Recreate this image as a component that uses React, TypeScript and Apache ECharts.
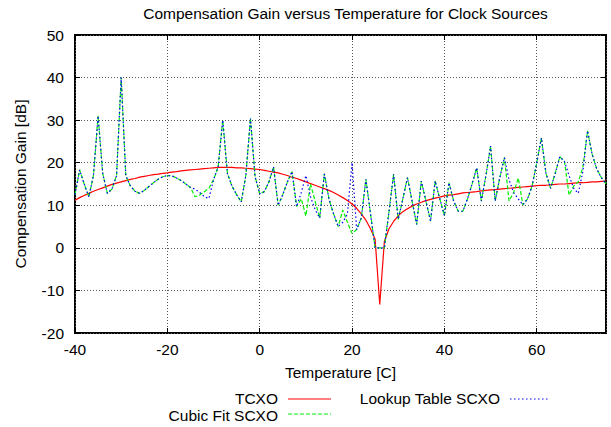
import React, { useEffect, useRef } from "react";
import * as echarts from "echarts";

const titleText = "Compensation Gain versus Temperature for Clock Sources";
const xAxisName = "Temperature [C]";
const yAxisName = "Compensation Gain [dB]";

const temps = [
  -40, -39, -38, -37, -36, -35, -34, -33, -32, -31, -30, -29, -28, -27, -26, -25, -24, -23, -22, -21,
  -20, -19, -18, -17, -16, -15, -14, -13, -12, -11, -10, -9, -8, -7, -6, -5, -4, -3, -2, -1,
  0, 1, 2, 3, 4, 5, 6, 7, 8, 9, 10, 11, 12, 13, 14, 15, 16, 17, 18, 19,
  20, 21, 22, 23, 24, 25, 26, 27, 28, 29, 30, 31, 32, 33, 34, 35, 36, 37, 38, 39,
  40, 41, 42, 43, 44, 45, 46, 47, 48, 49, 50, 51, 52, 53, 54, 55, 56, 57, 58, 59,
  60, 61, 62, 63, 64, 65, 66, 67, 68, 69, 70, 71, 72, 73, 74, 75,
];

const tcxo = [
  11.2, 11.8, 12.3, 12.8, 13.3, 13.7, 14.1, 14.5, 14.9, 15.2, 15.5, 15.8, 16.1, 16.3, 16.6, 16.8, 17.0, 17.2, 17.3, 17.5,
  17.6, 17.8, 17.9, 18.1, 18.2, 18.3, 18.4, 18.5, 18.6, 18.7, 18.8, 18.9, 18.9, 18.9, 18.9, 18.8, 18.8, 18.7, 18.6, 18.5,
  18.4, 18.2, 18.0, 17.8, 17.6, 17.3, 17.0, 16.6, 16.3, 15.9, 15.5, 15.1, 14.7, 14.3, 13.9, 13.5, 13.0, 12.4, 11.8, 11.1,
  10.3, 9.3, 8.0, 6.5, 4.5, 2.0, -13.3, 1.5, 4.5, 6.2, 7.5, 8.5, 9.2, 9.8, 10.3, 10.7, 11.1, 11.4, 11.7, 11.9,
  12.2, 12.4, 12.5, 12.7, 12.9, 13.0, 13.1, 13.2, 13.4, 13.5, 13.6, 13.7, 13.8, 13.9, 14.0, 14.1, 14.2, 14.3, 14.4, 14.5,
  14.6, 14.7, 14.7, 14.8, 14.9, 15.0, 15.0, 15.1, 15.2, 15.3, 15.3, 15.4, 15.5, 15.5, 15.6, 15.7,
];

const cubicFit = [
  12.5, 18.3, 15.0, 12.0, 17.0, 31.0, 17.5, 12.8, 13.8, 17.0, 40.0, 17.0, 14.5, 13.3, 12.8, 13.5, 14.4, 15.3, 16.1, 16.7,
  17.0, 16.9, 16.4, 15.8, 15.0, 14.2, 12.0, 12.4, 13.2, 14.0, 16.0, 19.0, 30.0, 17.5, 14.5, 12.5, 10.8, 17.0, 30.4, 16.7,
  12.7, 13.2, 15.5, 19.0, 10.0, 12.5, 15.5, 17.9, 9.7, 11.5, 7.5, 15.0, 11.0, 7.0, 17.4, 11.5, 8.0, 5.0, 8.9, 6.0,
  3.4, 4.3, 7.0, 16.1, 8.0, 0, 0, 0, 8.5, 17.3, 6.7, 11.5, 16.5, 11.0, 5.5, 15.7, 11.0, 6.3, 15.7, 11.5,
  7.6, 15.3, 11.0, 8.6, 8.6, 11.5, 15.0, 18.8, 11.0, 17.0, 23.9, 11.0, 16.5, 21.2, 11.0, 13.0, 16.4, 10.1, 11.5, 14.5,
  20.0, 25.8, 17.5, 14.0, 17.5, 21.4, 20.3, 12.4, 14.5, 15.5, 19.0, 27.5, 22.0, 18.5, 16.5, 15.0,
];

const lookupTable = [
  12.5, 18.3, 15.0, 12.0, 17.0, 31.0, 17.5, 12.8, 13.8, 17.0, 40.0, 17.0, 14.5, 13.3, 12.8, 13.5, 14.4, 15.3, 16.1, 16.7,
  17.0, 16.9, 16.4, 15.8, 15.0, 14.2, 13.8, 13.0, 12.0, 11.6, 16.0, 19.0, 30.0, 17.5, 14.5, 12.5, 10.8, 17.0, 30.4, 16.7,
  12.7, 13.2, 15.5, 19.0, 10.0, 12.5, 15.5, 17.9, 9.7, 13.0, 17.0, 12.0, 9.0, 7.0, 17.4, 11.5, 8.0, 5.0, 6.0, 8.0,
  20.0, 4.3, 7.0, 16.1, 8.0, 0, 0, 0, 8.5, 17.3, 6.7, 11.5, 16.5, 11.0, 5.5, 15.7, 11.0, 6.3, 15.7, 11.5,
  7.6, 15.3, 11.0, 8.6, 8.6, 11.5, 15.0, 18.8, 11.0, 17.0, 23.9, 11.0, 16.5, 21.2, 16.0, 13.0, 11.5, 10.1, 11.5, 14.5,
  20.0, 25.8, 17.5, 14.0, 17.5, 21.4, 20.3, 17.0, 14.0, 12.8, 18.0, 27.5, 22.0, 18.5, 16.5, 15.0,
];

const seriesNames = ["TCXO", "Cubic Fit SCXO", "Lookup Table SCXO"];

const FONT = "'Liberation Sans', Arial, Helvetica, sans-serif";
const FS = 15.5;

export default function App() {
  const ref = useRef<HTMLDivElement>(null);

  useEffect(() => {
    document.body.style.margin = "0";
    if (!ref.current) return;
    const chart = echarts.init(ref.current, undefined, { renderer: "svg" });

    const toPairs = (vals: number[]) => temps.map((t, i) => [t, vals[i]]);

    const gridLine = { show: true, lineStyle: { color: "#555", width: 1, type: [1, 2] as any } };
    const tickIn = { show: true, inside: true, length: 5, lineStyle: { color: "#000", width: 1 } };
    const noLine = { show: false, onZero: false };

    chart.setOption({
      animation: false,
      backgroundColor: "#fff",
      textStyle: { fontFamily: FONT },
      title: {
        text: titleText,
        left: 340.5,
        top: 0,
        textAlign: "center",
        textStyle: { fontFamily: FONT, fontSize: FS, fontWeight: "normal", color: "#000" },
      },
      grid: {
        left: 75,
        right: 5,
        top: 35,
        bottom: 94,
        show: true,
        borderColor: "#000",
        borderWidth: 2,
        backgroundColor: "transparent",
      },
      xAxis: [
        {
          type: "value",
          min: -40,
          max: 75,
          interval: 20,
          position: "bottom",
          name: xAxisName,
          nameLocation: "middle",
          nameGap: 31,
          nameTextStyle: { fontFamily: FONT, fontSize: FS, color: "#000" },
          axisLine: noLine,
          axisTick: tickIn,
          splitLine: gridLine,
          axisLabel: { fontFamily: FONT, fontSize: FS, color: "#000", margin: 8, showMaxLabel: false },
        },
        {
          type: "value",
          min: -40,
          max: 75,
          interval: 20,
          position: "top",
          axisLine: noLine,
          axisTick: tickIn,
          splitLine: { show: false },
          axisLabel: { show: false },
        },
      ],
      yAxis: [
        {
          type: "value",
          min: -20,
          max: 50,
          interval: 10,
          position: "left",
          name: yAxisName,
          nameLocation: "middle",
          nameRotate: 90,
          nameGap: 47,
          nameTextStyle: { fontFamily: FONT, fontSize: FS, color: "#000" },
          axisLine: noLine,
          axisTick: tickIn,
          splitLine: gridLine,
          axisLabel: { fontFamily: FONT, fontSize: FS, color: "#000", margin: 11 },
        },
        {
          type: "value",
          min: -20,
          max: 50,
          interval: 10,
          position: "right",
          axisLine: noLine,
          axisTick: tickIn,
          splitLine: { show: false },
          axisLabel: { show: false },
        },
      ],
      series: [
        {
          name: seriesNames[0],
          type: "line",
          data: toPairs(tcxo),
          showSymbol: false,
          symbol: "none",
          lineStyle: { color: "#ff0000", width: 1.2 },
          itemStyle: { color: "#ff0000" },
          z: 3,
        },
        {
          name: seriesNames[1],
          type: "line",
          data: toPairs(cubicFit),
          showSymbol: false,
          symbol: "none",
          lineStyle: { color: "#00ee00", width: 1.2, type: [4, 2] },
          itemStyle: { color: "#00ee00" },
          z: 4,
        },
        {
          name: seriesNames[2],
          type: "line",
          data: toPairs(lookupTable),
          showSymbol: false,
          symbol: "none",
          lineStyle: { color: "#0000ff", width: 1.2, type: [1.5, 2.5] },
          itemStyle: { color: "#0000ff" },
          z: 5,
        },
      ],
      graphic: [
        {
          type: "text",
          x: 278,
          y: 398,
          silent: true,
          style: { text: seriesNames[0], fill: "#000", fontFamily: FONT, fontSize: FS, align: "right", verticalAlign: "middle" },
        },
        {
          type: "line",
          silent: true,
          shape: { x1: 288, y1: 399, x2: 331, y2: 399 },
          style: { stroke: "#ff0000", lineWidth: 1.2 },
        },
        {
          type: "text",
          x: 278,
          y: 415,
          silent: true,
          style: { text: seriesNames[1], fill: "#000", fontFamily: FONT, fontSize: FS, align: "right", verticalAlign: "middle" },
        },
        {
          type: "line",
          silent: true,
          shape: { x1: 288, y1: 414, x2: 331, y2: 414 },
          style: { stroke: "#00ee00", lineWidth: 1.2, lineDash: [4, 2] },
        },
        {
          type: "text",
          x: 500,
          y: 398,
          silent: true,
          style: { text: seriesNames[2], fill: "#000", fontFamily: FONT, fontSize: FS, align: "right", verticalAlign: "middle" },
        },
        {
          type: "line",
          silent: true,
          shape: { x1: 510, y1: 399, x2: 549, y2: 399 },
          style: { stroke: "#0000ff", lineWidth: 1.2, lineDash: [1.5, 2.5] },
        },
      ],
    });

    return () => chart.dispose();
  }, []);

  return <div ref={ref} style={{ position: "fixed", left: 0, top: 0, width: 611, height: 427 }} />;
}
